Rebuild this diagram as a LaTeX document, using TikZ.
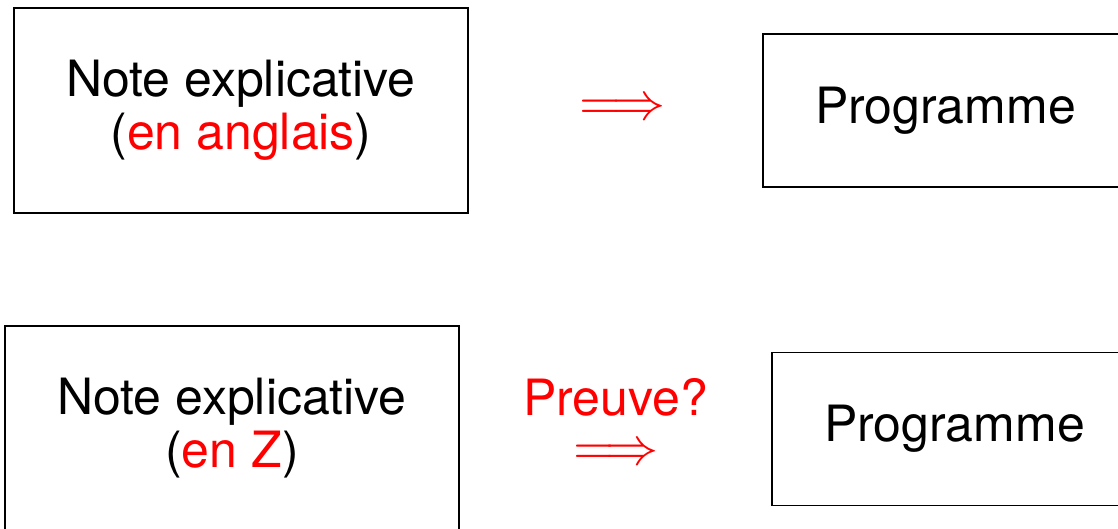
\documentclass[tikz,border=0pt]{standalone}
\usepackage{fontspec}
\setmainfont{TeX Gyre Heros}
\usepackage{tikz}
\usetikzlibrary{positioning}
\usepackage{xcolor}

\newcommand{\bigimplies}{\scalebox{5.3}{$\Longrightarrow$}}

\tikzset{
    docbox/.style={draw, line width=1.2pt, minimum width=454pt, minimum height=205pt, align=center, inner sep=0pt},
    progbox/.style={draw, line width=1.2pt, minimum width=365pt, minimum height=153pt, inner sep=0pt},
    bigtext/.style={font=\fontsize{50}{53}\selectfont},
    implies/.style={text=red, inner sep=0pt}
}

\begin{document}
\begin{tikzpicture}[x=1pt, y=-1pt]
    \useasboundingbox (0,0) rectangle (1118,529);
    \clip (0,0) rectangle (1118,529);

    % informal specification
    \node[docbox, bigtext] (note) at (241,110.5) {Note explicative\\(\textcolor{red}{en anglais})};
    \node[implies] (impl) at (622.5,110) {\bigimplies};
    \node[progbox, bigtext] (prog) at (945.5,110.5) {Programme};

    % formal specification
    \node[docbox, bigtext] (noteZ) at (232,428.5) {Note explicative\\(\textcolor{red}{en Z})};
    \node[implies] (implZ) at (616,455) {\bigimplies};
    \node[bigtext, text=red, anchor=base, inner sep=0pt] (preuve) at (615.5,415) {Preuve?};
    \node[progbox, bigtext] (progZ) at (954.5,429) {Programme};
\end{tikzpicture}
\end{document}
